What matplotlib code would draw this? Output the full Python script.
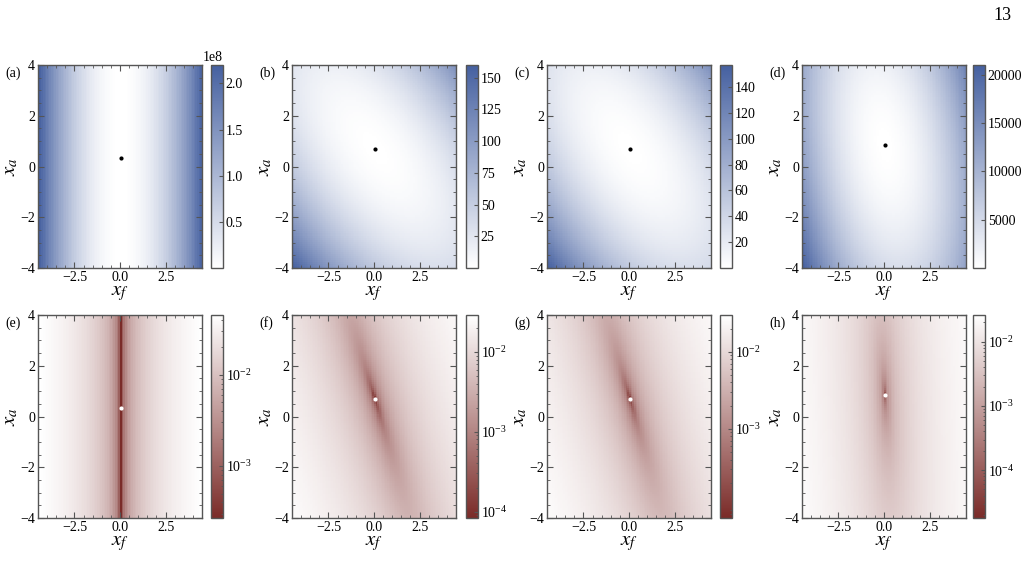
import numpy as np
import matplotlib
matplotlib.use("Agg")
import matplotlib.pyplot as plt
from matplotlib.colors import LinearSegmentedColormap, LogNorm
from matplotlib.ticker import MultipleLocator, FixedLocator, LogFormatterSciNotation

plt.rcParams['font.family'] = ['Liberation Serif', 'DejaVu Serif']
plt.rcParams['mathtext.fontset'] = 'stix'
plt.rcParams['axes.unicode_minus'] = True

# panel labels and position of the optimum (dot)
panel_labels = ['(a)', '(b)', '(c)', '(d)', '(e)', '(f)', '(g)', '(h)']
dot_xf = [0.05, 0.05, 0.05, 0.05, 0.05, 0.05, 0.05, 0.05]
dot_xa = [0.35, 0.70, 0.70, 0.85, 0.35, 0.70, 0.70, 0.85]

# top row: quadratic surfaces  c_ff*dxf^2 + c_aa*dxa^2 + c_fa*dxf*dxa
top_c_ff = [1.07e7, 2.02, 2.15, 580.0]
top_c_aa = [0.0, 2.50, 2.35, 200.0]
top_c_fa = [0.0, 2.90, 2.80, 194.0]
top_vmax = [2.2e8, 160.0, 157.0, 21000.0]
top_ticks = [[0.5e8, 1.0e8, 1.5e8, 2.0e8],
             [25, 50, 75, 100, 125, 150],
             [20, 40, 60, 80, 100, 120, 140],
             [5000, 10000, 15000, 20000]]

# bottom row: log-scale valley along a line through the dot
bot_dir_f = [0.0, 3.1, 3.1, 0.5]     # direction of the dark band
bot_dir_a = [1.0, -7.5, -8.0, -8.0]
bot_g_perp = [0.0100, 0.0043, 0.0045, 0.0045]
bot_g_par = [0.0, 0.0007, 0.0008, 0.0009]
bot_vmin = [2.7e-4, 8.3e-5, 7.0e-5, 1.8e-5]
bot_vmax = [0.045, 0.029, 0.030, 0.026]
bot_ticks = [[1e-3, 1e-2], [1e-4, 1e-3, 1e-2], [1e-3, 1e-2], [1e-4, 1e-3, 1e-2]]

xf_range = 4.5
xa_range = 4.0

blues = LinearSegmentedColormap.from_list('wb', ['#ffffff', '#4560a0'])
reds = LinearSegmentedColormap.from_list('rw', ['#7a2b28', '#ffffff'])

fig = plt.figure(figsize=(10.24, 5.79), dpi=100)
W, H = 1024.0, 579.0
ax_left = [38, 292, 547, 802]
cb_left = [211, 466, 720, 973]
row_top = [65, 315]
ax_w, ax_h, cb_w = 164, 203, 12
frame_col = '#555555'

xf = np.linspace(-xf_range, xf_range, 100)
xa = np.linspace(-xa_range, xa_range, 100)
XF, XA = np.meshgrid(xf, xa)


def style_axes(ax):
    for s in ax.spines.values():
        s.set_color(frame_col)
        s.set_linewidth(1.0)
    ax.set_xlim(-xf_range, xf_range)
    ax.set_ylim(-xa_range, xa_range)
    ax.xaxis.set_major_locator(FixedLocator([-2.5, 0.0, 2.5]))
    ax.xaxis.set_minor_locator(MultipleLocator(0.5))
    ax.yaxis.set_major_locator(MultipleLocator(2))
    ax.yaxis.set_minor_locator(MultipleLocator(0.5))
    ax.set_xticklabels(['\u22122.5', '0.0', '2.5'])
    ax.tick_params(which='both', direction='in', top=True, right=True,
                   color=frame_col, labelsize=10, pad=2)
    ax.tick_params(which='major', length=4)
    ax.tick_params(which='minor', length=2)
    ax.set_xlabel(r'$x_f$', fontsize=15, labelpad=0)
    ax.set_ylabel(r'$x_a$', fontsize=15, labelpad=0)


for row in range(2):
    for col in range(4):
        i = row * 4 + col
        y0 = (H - row_top[row] - ax_h) / H
        ax = fig.add_axes([ax_left[col] / W, y0, ax_w / W, ax_h / H])
        cax = fig.add_axes([cb_left[col] / W, y0, cb_w / W, ax_h / H])
        dxf = XF - dot_xf[i]
        dxa = XA - dot_xa[i]
        if row == 0:
            Z = top_c_ff[col] * dxf ** 2 + top_c_aa[col] * dxa ** 2 + top_c_fa[col] * dxf * dxa
            im = ax.imshow(Z, origin='lower', extent=[-xf_range, xf_range, -xa_range, xa_range],
                           aspect='auto', cmap=blues, vmin=0, vmax=top_vmax[col],
                           interpolation='nearest')
            dot_col = 'black'
        else:
            t = np.array([bot_dir_f[col], bot_dir_a[col]])
            t = t / np.linalg.norm(t)
            n = np.array([-t[1], t[0]])
            d_perp = n[0] * dxf + n[1] * dxa
            d_par = t[0] * dxf + t[1] * dxa
            Z = np.sqrt(bot_vmin[col] ** 2 + (bot_g_perp[col] * d_perp) ** 2
                        + (bot_g_par[col] * d_par) ** 2)
            im = ax.imshow(Z, origin='lower', extent=[-xf_range, xf_range, -xa_range, xa_range],
                           aspect='auto', cmap=reds,
                           norm=LogNorm(vmin=bot_vmin[col], vmax=bot_vmax[col]),
                           interpolation='nearest')
            dot_col = 'white'
        ax.plot(dot_xf[i], dot_xa[i], 'o', color=dot_col, markersize=3, mec='none')
        style_axes(ax)

        cb = fig.colorbar(im, cax=cax)
        cb.outline.set_edgecolor(frame_col)
        cb.outline.set_linewidth(1.0)
        if row == 0:
            cb.set_ticks(top_ticks[col])
            if col == 0:
                cb.formatter.set_scientific(True)
                cb.formatter.set_powerlimits((0, 0))
                cb.update_ticks()
                cax.yaxis.get_offset_text().set_fontsize(10)
        else:
            cb.set_ticks(bot_ticks[col])
            cb.ax.yaxis.set_major_formatter(LogFormatterSciNotation())
        cax.tick_params(which='both', direction='in', color=frame_col, labelsize=10, pad=2)
        cax.tick_params(which='major', length=3)
        cax.tick_params(which='minor', length=1.5)

        fig.text((ax_left[col] - 33) / W, (H - row_top[row] - 8) / H, panel_labels[i],
                 fontsize=10, ha='left', va='center')

fig.text(1012 / W, (H - 16) / H, '13', fontsize=13, ha='right', va='center')

fig.savefig('out.png', dpi=100)
